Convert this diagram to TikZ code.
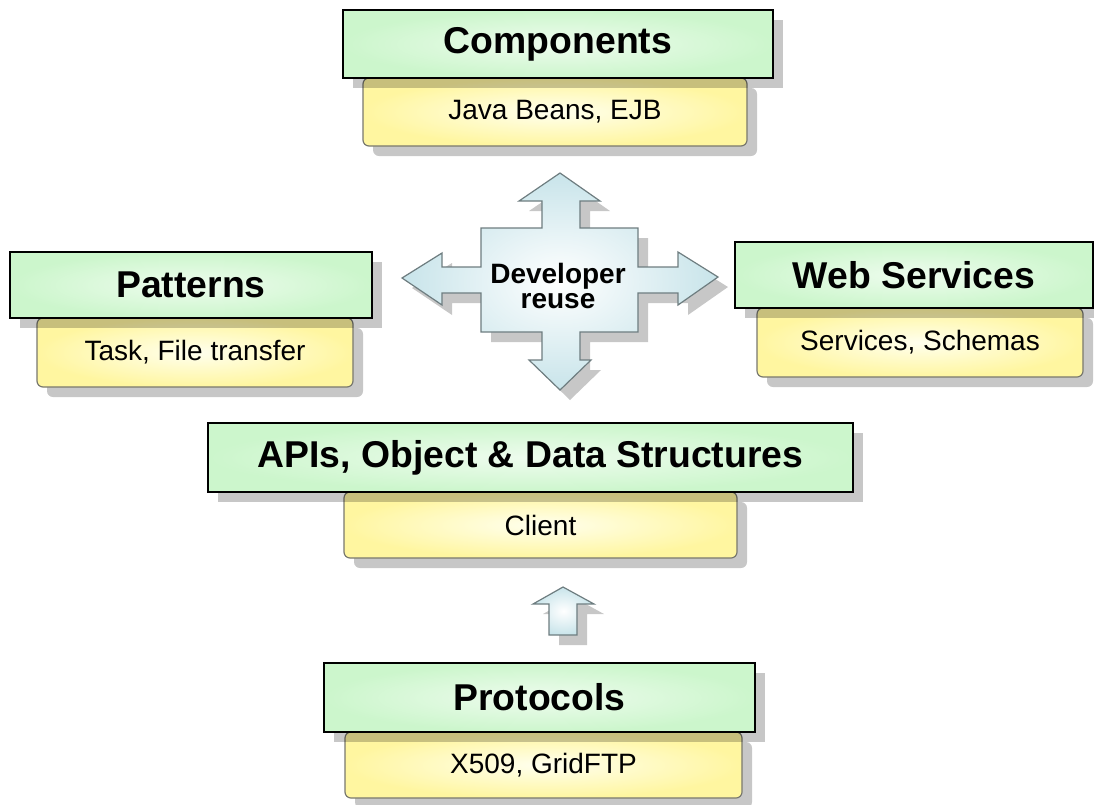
\documentclass[tikz,border=0pt]{standalone}
\usepackage{fontspec}
\setmainfont{Liberation Sans}

\begin{document}
\begin{tikzpicture}[x=0.75pt,y=0.75pt,yscale=-1,xscale=1,
  boxshadow/.style={preaction={fill=black,fill opacity=.22,draw=none,transform canvas={shift={(7.5pt,-7.5pt)}}}},
  titlebox/.style={boxshadow,draw=black,line width=2pt,inner sep=0pt,
    inner color={rgb,255:red,238;green,252;blue,238},outer color={rgb,255:red,204;green,246;blue,204},
    font=\bfseries\fontsize{28}{32}\selectfont},
  itembox/.style={boxshadow,draw={rgb,255:red,120;green,120;blue,110},line width=0.9pt,rounded corners=4.5pt,inner sep=0pt,
    inner color={rgb,255:red,255;green,255;blue,238},outer color={rgb,255:red,255;green,246;blue,160},
    font=\fontsize{21}{25}\selectfont},
  blockarrow/.style={boxshadow,draw={rgb,255:red,110;green,125;blue,128},line width=0.9pt,
    inner color=white,outer color={rgb,255:red,200;green,228;blue,234}}
]
\useasboundingbox (0,0) rectangle (1094,804);

%Shape: Cross arrow
\shadedraw [blockarrow] (560,173) -- (600,201) -- (580,201) -- (580,228) -- (638,228) -- (638,267) -- (678,267) -- (678,252) -- (718,277) -- (678,305) -- (678,293) -- (638,293) -- (638,332) -- (580,332) -- (580,360) -- (591,360) -- (560,390) -- (529,360) -- (542,360) -- (542,332) -- (481,332) -- (481,293) -- (442,293) -- (442,305) -- (402,278) -- (442,253) -- (442,267) -- (481,267) -- (481,228) -- (542,228) -- (542,201) -- (519,201) -- cycle ;
% Text Node
\node [font=\bfseries\fontsize{21}{19}\selectfont, align=center] (reuse) at (558,286) {Developer\\reuse};

%Shape: Up arrow
\shadedraw [blockarrow] (563,587) -- (594,604) -- (577,604) -- (577,635) -- (549,635) -- (549,604) -- (533,604) -- cycle ;

%Shape: Rectangle (Components)
\node [itembox, minimum width=288pt, minimum height=51pt] (beans) at (555,112) {Java Beans, EJB};
\node [titlebox, minimum width=322.5pt, minimum height=51pt] (comp) at (558,44) {Components};

%Shape: Rectangle (Patterns)
\node [itembox, minimum width=237pt, minimum height=51.75pt] (task) at (195,352.5) {Task, File transfer};
\node [titlebox, minimum width=271.5pt, minimum height=49.5pt] (patt) at (191,285) {Patterns};

%Shape: Rectangle (Web Services)
\node [itembox, minimum width=244.5pt, minimum height=51.75pt] (schema) at (920,342.5) {Services, Schemas};
\node [titlebox, minimum width=268.5pt, minimum height=49.5pt] (websrv) at (914,275) {Web Services};

%Shape: Rectangle (APIs)
\node [itembox, minimum width=294.75pt, minimum height=49.5pt] (client) at (540.5,525) {Client};
\node [titlebox, minimum width=483.75pt, minimum height=51.75pt] (apis) at (530.5,457.5) {APIs, Object \& Data Structures};

%Shape: Rectangle (Protocols)
\node [itembox, minimum width=297.75pt, minimum height=49.5pt] (x509) at (543.5,765) {X509, GridFTP};
\node [titlebox, minimum width=323.25pt, minimum height=51.75pt] (proto) at (539.5,697.5) {Protocols};

\end{tikzpicture}
\end{document}
